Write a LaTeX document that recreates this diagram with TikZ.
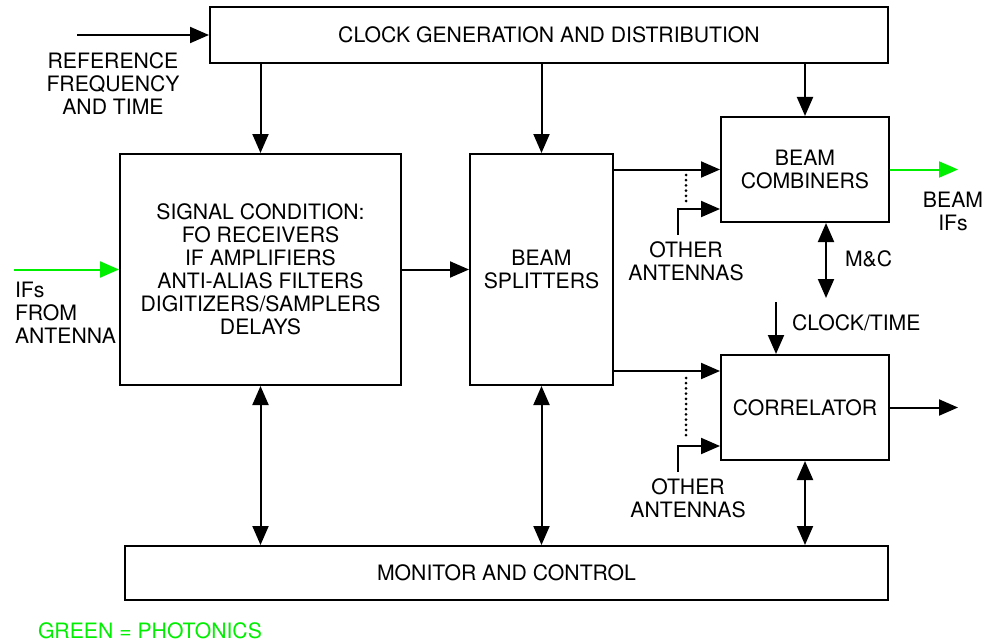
\documentclass[tikz,border=0pt]{standalone}
\usepackage{fontspec}
\setmainfont{TeX Gyre Heros}
\usetikzlibrary{arrows.meta}
\definecolor{photon}{RGB}{0,238,0}
\begin{document}
\begin{tikzpicture}[x=0.5pt,y=-0.5pt,line width=1pt,
  >={Triangle[length=9.5pt,width=8pt]},
  every node/.style={font=\fontsize{10.6pt}{11.5pt}\selectfont},
  blk/.style={draw,inner sep=0pt,align=center},
  lbl/.style={inner sep=0pt,align=center},
  dotline/.style={line width=1.5pt,line cap=round,dash pattern=on 0pt off 2.6pt}]
\useasboundingbox (0,0) rectangle (984,642);
% boxes
\node[blk, minimum width=339pt, minimum height=28pt] (clock) at (549,35) {CLOCK GENERATION AND DISTRIBUTION};
\node[blk, minimum width=140.5pt, minimum height=115.5pt] (sig) at (260.5,269.5) {SIGNAL CONDITION:\\FO RECEIVERS\\IF AMPLIFIERS\\ANTI-ALIAS FILTERS\\DIGITIZERS/SAMPLERS\\DELAYS};
\node[blk, minimum width=71.5pt, minimum height=115.5pt] (split) at (541.5,269.5) {BEAM\\SPLITTERS};
\node[blk, minimum width=84pt, minimum height=52.5pt] (comb) at (805,169.5) {BEAM\\COMBINERS};
\node[blk, minimum width=84pt, minimum height=52.5pt] (corr) at (805,407.5) {CORRELATOR};
\node[blk, minimum width=381.5pt, minimum height=27pt] (mon) at (506.5,573) {MONITOR AND CONTROL};
% labels
\node[lbl] (reflbl) at (113,83.5) {REFERENCE\\FREQUENCY\\AND TIME};
\node[lbl, anchor=west, align=left] (iflbl) at (14,312.5) {IFs\\FROM\\ANTENNA};
\node[lbl, inner sep=3pt] (oa1) at (686,261.5) {OTHER\\ANTENNAS};
\node[lbl, inner sep=3pt] (oa2) at (688,498.5) {OTHER\\ANTENNAS};
\node[lbl] (beamlbl) at (953,211) {BEAM\\IFs};
\node[lbl, anchor=west] (mclbl) at (844,259) {M\&C};
\node[lbl, anchor=west] (ctlbl) at (791,322.5) {CLOCK/TIME};
\node[lbl, anchor=west, text=photon] (key) at (37,630.5) {GREEN = PHOTONICS};
% free ends and entry points
\coordinate (refin) at (77,35);
\coordinate (ifin) at (14,269.5);
\coordinate (beamout) at (958,169.5);
\coordinate (corrout) at (958,407.5);
\coordinate (mc) at (826,298);
\coordinate (ct) at (776,302);
\coordinate (corrin) at ([yshift=18.25pt]corr.west);
\coordinate (combin2) at ([yshift=-19.75pt]comb.west);
\coordinate (corrin2) at ([yshift=-19.25pt]corr.west);
% connectors
\draw[->] (refin) -- (clock.west);
\draw[->] (sig.north |- clock.south) -- (sig.north);
\draw[->] (split.north |- clock.south) -- (split.north);
\draw[->] (comb.north |- clock.south) -- (comb.north);
\draw[->, photon] (ifin) -- (sig.west);
\draw[->] (sig.east) -- (split.west);
\draw[->] (split.east |- comb.west) -- (comb.west);
\draw[->] (split.east |- corrin) -- (corrin);
\draw[->] ([xshift=-4pt]oa1.north) |- (combin2);
\draw[->] ([xshift=-5pt]oa2.north) |- (corrin2);
\draw[dotline] ([xshift=-17pt,yshift=-2.75pt]comb.west) -- ++(0,28);
\draw[dotline] ([xshift=-17pt,yshift=14.75pt]corr.west) -- ++(0,60);
\draw[->, photon] (comb.east) -- (beamout);
\draw[<->] ([xshift=10.5pt]comb.south) -- (mc);
\draw[->] (ct) -- (ct |- corr.north);
\draw[->] (corr.east) -- (corrout);
\draw[<->] (sig.south) -- (sig.south |- mon.north);
\draw[<->] (split.south) -- (split.south |- mon.north);
\draw[<->] (corr.south) -- (corr.south |- mon.north);
\end{tikzpicture}
\end{document}
